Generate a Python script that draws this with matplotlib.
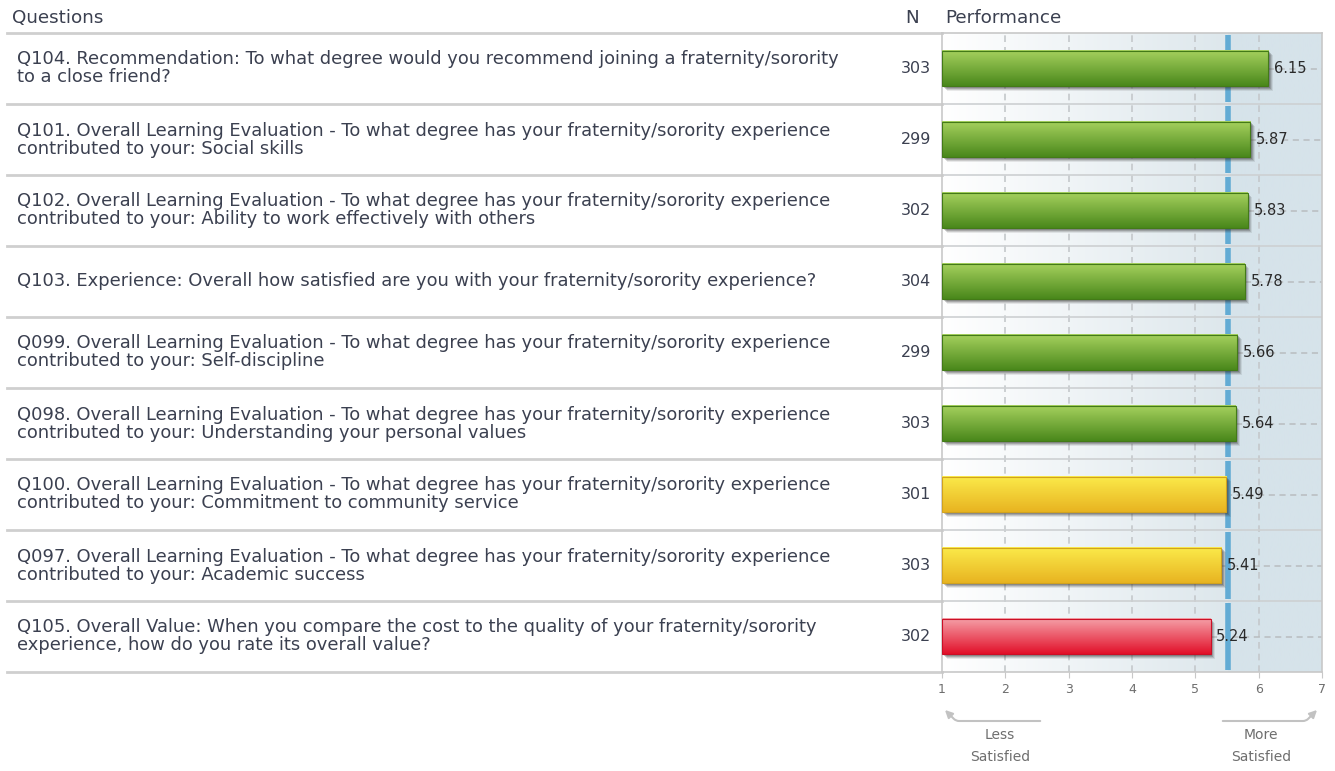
import numpy as np
import matplotlib
matplotlib.use("Agg")
import matplotlib.pyplot as plt
from matplotlib.patches import Rectangle, FancyArrowPatch
from matplotlib.transforms import blended_transform_factory

questions = [
    "Q104. Recommendation: To what degree would you recommend joining a fraternity/sorority\nto a close friend?",
    "Q101. Overall Learning Evaluation - To what degree has your fraternity/sorority experience\ncontributed to your: Social skills",
    "Q102. Overall Learning Evaluation - To what degree has your fraternity/sorority experience\ncontributed to your: Ability to work effectively with others",
    "Q103. Experience: Overall how satisfied are you with your fraternity/sorority experience?",
    "Q099. Overall Learning Evaluation - To what degree has your fraternity/sorority experience\ncontributed to your: Self-discipline",
    "Q098. Overall Learning Evaluation - To what degree has your fraternity/sorority experience\ncontributed to your: Understanding your personal values",
    "Q100. Overall Learning Evaluation - To what degree has your fraternity/sorority experience\ncontributed to your: Commitment to community service",
    "Q097. Overall Learning Evaluation - To what degree has your fraternity/sorority experience\ncontributed to your: Academic success",
    "Q105. Overall Value: When you compare the cost to the quality of your fraternity/sorority\nexperience, how do you rate its overall value?",
]
n_values = [303, 299, 302, 304, 299, 303, 301, 303, 302]
scores = [6.15, 5.87, 5.83, 5.78, 5.66, 5.64, 5.49, 5.41, 5.24]
bands = ["green", "green", "green", "green", "green", "green", "yellow", "yellow", "red"]
benchmark = 5.52
x_ticks = [1, 2, 3, 4, 5, 6, 7]

band_colors = {
    "green": ("#a6d15e", "#4a881b"),
    "yellow": ("#fbea4a", "#e8b421"),
    "red": ("#f5a0a8", "#e2112a"),
}

W, H = 1335, 771
plt.rcParams["font.family"] = ["DejaVu Sans"]
fig = plt.figure(figsize=(W / 100, H / 100), dpi=100)

text_col = "#3b4050"
grey_col = "#6e6e6e"

# plot area in pixel coords of the reference
px_l, px_r, px_t, px_b = 942, 1322, 33, 672
ax = fig.add_axes([px_l / W, 1 - px_b / H, (px_r - px_l) / W, (px_b - px_t) / H])
nrows = len(scores)

# background gradient
xs = np.linspace(1, 7, 400)
c0 = np.array([1.0, 1.0, 1.0])
c1 = np.array([0xdd, 0xe7, 0xec]) / 255
c2 = np.array([0xd6, 0xe3, 0xea]) / 255
t = np.clip((xs - 1) / (benchmark - 1), 0, 1)[:, None]
grad = c0 * (1 - t) + c1 * t
grad[xs > benchmark] = c2
ax.imshow(grad[None, :, :], extent=[1, 7, nrows, 0], aspect="auto", zorder=0)

for s in ax.spines.values():
    s.set_color("#c8c8c8")
    s.set_linewidth(1.2)

# vertical dashed grid
for xv in x_ticks[1:-1]:
    ax.axvline(xv, color="#c4c8cb", lw=1.2, ls=(0, (4, 3)), zorder=1)

# row boundaries inside plot
for i in range(1, nrows):
    ax.axhline(i, color="#cdd0d2", lw=1.2, zorder=1)

# benchmark line, broken at row boundaries
for i in range(nrows):
    ax.plot([benchmark, benchmark], [i + 0.03, i + 0.97], color="#62abd4", lw=4,
            solid_capstyle="butt", zorder=2)

bar_h = 0.5
px_x = 6 / (px_r - px_l)
px_y = nrows / (px_b - px_t)
for i, (v, b) in enumerate(zip(scores, bands)):
    yc = i + 0.5
    top, bot = yc - bar_h / 2, yc + bar_h / 2
    # dashed guide line
    ax.plot([v, 7], [yc, yc], color="#b8bcbf", lw=1.1, ls=(0, (4, 3)), zorder=1)
    # soft shadow
    for k, a in [(4.5, 0.10), (3.5, 0.16), (2.5, 0.22), (1.5, 0.25)]:
        ax.add_patch(Rectangle((1 + px_x * k, top + px_y * k), v - 1, bar_h,
                               color="#333333", alpha=a, lw=0, zorder=3))
    ct, cb = band_colors[b]
    ct = np.array(matplotlib.colors.to_rgb(ct))
    cb = np.array(matplotlib.colors.to_rgb(cb))
    tt = np.linspace(0, 1, 50)[:, None]
    g = ct * (1 - tt) + cb * tt
    ax.imshow(g[:, None, :], extent=[1, v, bot, top], aspect="auto", zorder=4)
    ax.add_patch(Rectangle((1, top), v - 1, bar_h, fill=False, ec=cb * 0.9, lw=0.8, zorder=5))
    ax.text(v + 0.09, yc, f"{v:.2f}", va="center", ha="left", fontsize=10.5,
            color="#2a2a2a", zorder=6)

ax.set_xlim(1, 7)
ax.set_ylim(nrows, 0)
ax.set_yticks([])
ax.set_xticks(x_ticks)
ax.set_xticklabels([str(x) for x in x_ticks], fontsize=9, color=grey_col)
ax.tick_params(axis="x", length=4, color="#c8c8c8", pad=4)

# left table
tr = blended_transform_factory(fig.transFigure, ax.transData)
for i in range(nrows + 1):
    ax.plot([7 / W, px_l / W], [i, i], transform=tr, color="#cfcfcf", lw=2,
            clip_on=False, zorder=1)
for i, (q, n) in enumerate(zip(questions, n_values)):
    ax.text(17 / W, i + 0.5, q, transform=tr, va="center", ha="left", fontsize=12.9,
            color=text_col, linespacing=1.0)
    ax.text(916 / W, i + 0.5, str(n), transform=tr, va="center", ha="center",
            fontsize=11.5, color=text_col)

fig.text(12 / W, 1 - 18 / H, "Questions", va="center", ha="left", fontsize=13.2, color=text_col)
fig.text(912 / W, 1 - 18 / H, "N", va="center", ha="center", fontsize=13.2, color=text_col)
fig.text(945 / W, 1 - 18 / H, "Performance", va="center", ha="left", fontsize=13.2, color=text_col)

# less / more satisfied annotations
arrow_kw = dict(arrowstyle="-|>", color="#c2c2c2", lw=1.5, mutation_scale=11)
fig.add_artist(FancyArrowPatch(
    (1043 / W, 1 - 721 / H), (943 / W, 1 - 708 / H), transform=fig.transFigure,
    connectionstyle="angle,angleA=180,angleB=135,rad=3", **arrow_kw))
fig.add_artist(FancyArrowPatch(
    (1220 / W, 1 - 721 / H), (1319 / W, 1 - 708 / H), transform=fig.transFigure,
    connectionstyle="angle,angleA=0,angleB=45,rad=3", **arrow_kw))
fig.text(1000 / W, 1 - 746 / H, "Less\nSatisfied", ha="center", va="center", fontsize=10,
         color=grey_col, linespacing=1.65)
fig.text(1261 / W, 1 - 746 / H, "More\nSatisfied", ha="center", va="center", fontsize=10,
         color=grey_col, linespacing=1.65)

fig.savefig("out.png", dpi=100)
